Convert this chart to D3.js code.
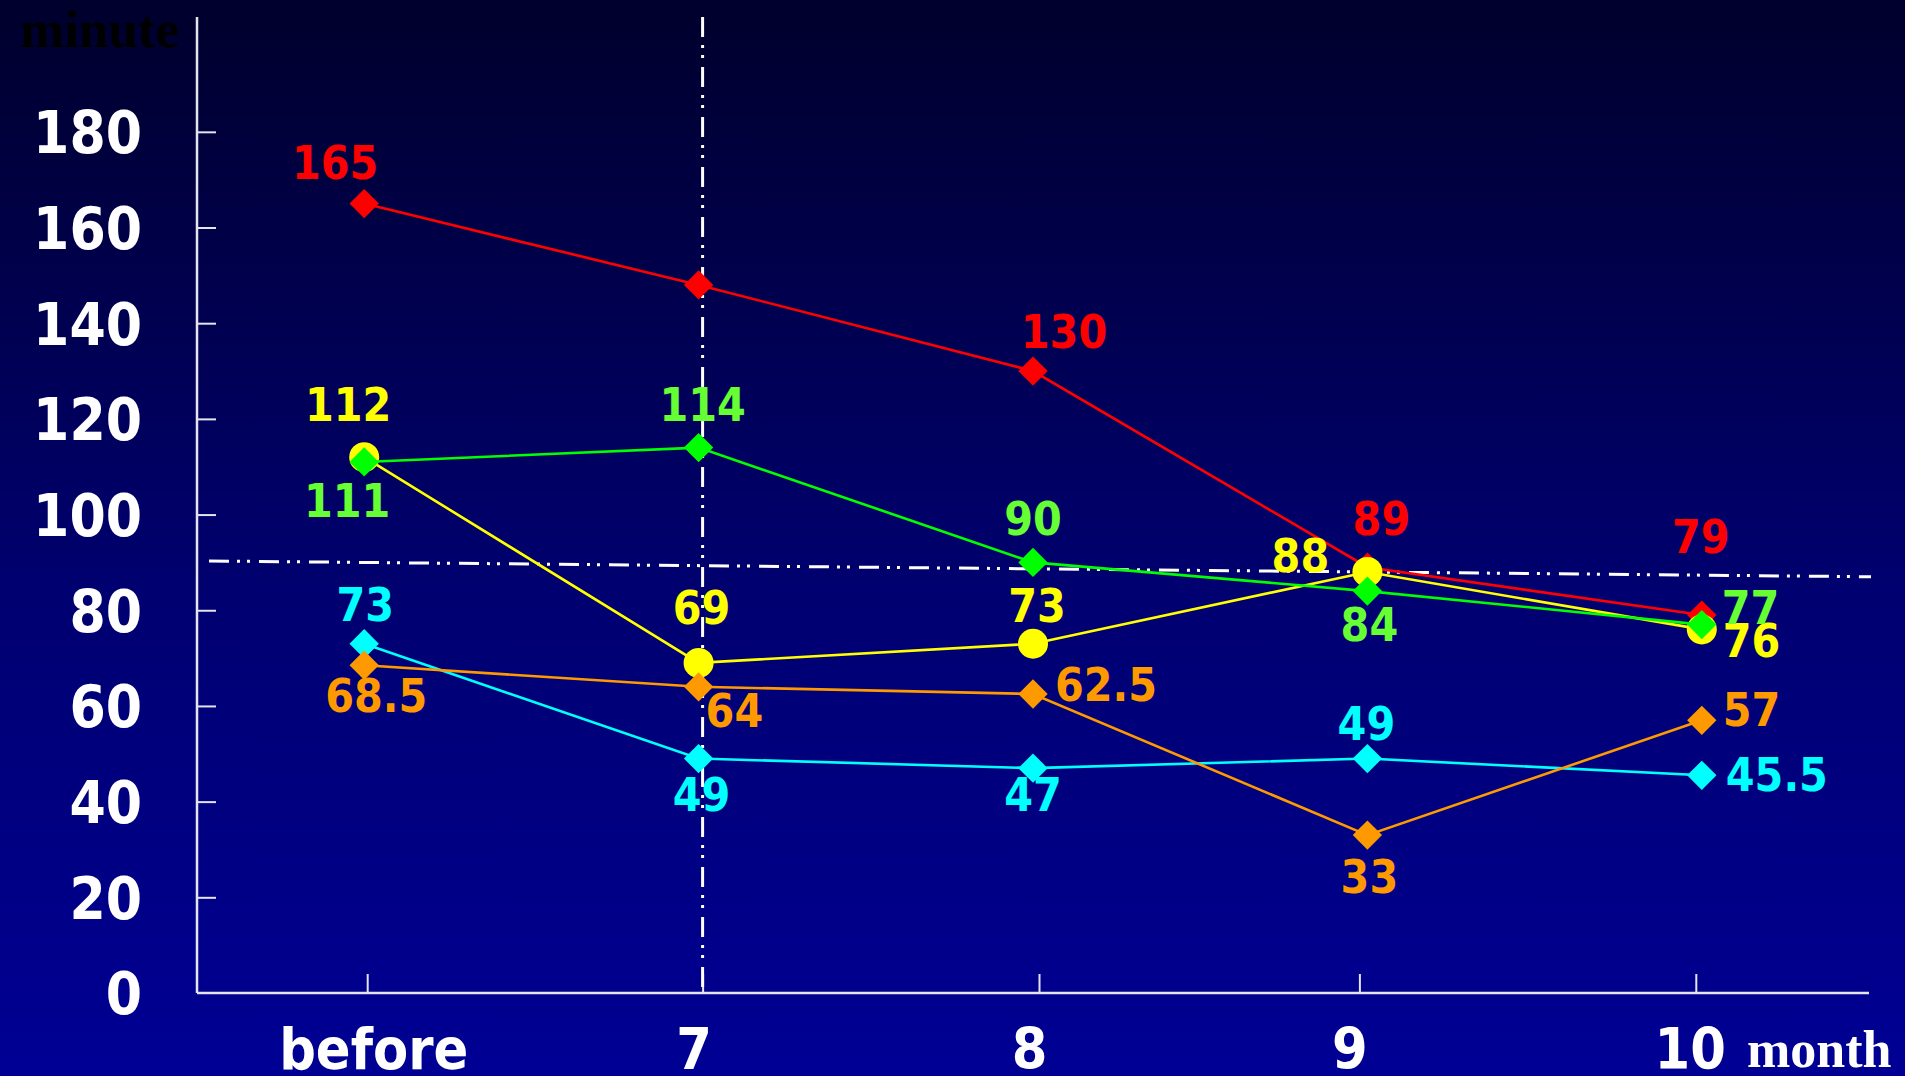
<!DOCTYPE html>
<html>
<head>
<meta charset="utf-8">
<script src="https://cdn.jsdelivr.net/npm/d3@7/dist/d3.min.js"></script>
<style>
  html, body { margin: 0; padding: 0; background: #000060; overflow: hidden; }
  svg { display: block; }
  .sans { font-family: "DejaVu Sans Condensed", "DejaVu Sans", sans-serif; font-stretch: condensed; font-weight: bold; }
  .serif { font-family: "Liberation Serif", "Times New Roman", serif; font-weight: bold; }
</style>
</head>
<body>
<svg id="chart" width="1905" height="1076"></svg>
<script>
// Months on the x axis
const categories = ["before", "7", "8", "9", "10"];
const yTicks = [0, 20, 40, 60, 80, 100, 120, 140, 160, 180];

// Minutes per group over the months
const redValues    = [165, 148, 130, 89, 79];
const yellowValues = [112, 69, 73, 88, 76];
const greenValues  = [111, 114, 90, 84, 77];
const cyanValues   = [73, 49, 47, 49, 45.5];
const orangeValues = [68.5, 64, 62.5, 33, 57];

// Which points carry a value label
const redLabelled = [true, false, true, true, true];

// Horizontal reference level (start, end) in minutes
const refLevel = [90.3, 87.0];

const W = 1905, H = 1076;
const svg = d3.select("#chart");

// Background gradient
const defs = svg.append("defs");
const grad = defs.append("linearGradient").attr("id", "bg")
  .attr("x1", 0).attr("y1", 0).attr("x2", 0).attr("y2", 1);
grad.append("stop").attr("offset", "0%").attr("stop-color", "#00002c");
grad.append("stop").attr("offset", "55%").attr("stop-color", "#000070");
grad.append("stop").attr("offset", "100%").attr("stop-color", "#000094");
svg.append("rect").attr("width", W).attr("height", H).attr("fill", "url(#bg)");

const axisLeft = 197, axisRight = 1869, axisBottom = 993, axisTop = 17;

const x = d3.scalePoint().domain(categories).range([axisLeft, axisRight]).padding(0.5);
const y = d3.scaleLinear().domain([0, 204]).range([axisBottom, axisTop]);

// Small hand-set nudges of the month ticks and their labels
const tickShift  = [3, 4, 6, -8, -6];
const labelShift = [9, -5, -4, -18, -12];

const axisColor = "#e4e4ee";

// Y axis
const yAxis = svg.append("g").attr("transform", `translate(${axisLeft},0)`)
  .call(d3.axisLeft(y).tickValues(yTicks).tickSize(0).tickPadding(55));
yAxis.select(".domain").remove();
yAxis.selectAll("text").attr("class", "sans").attr("fill", "#fff")
  .style("font-size", "58px").attr("dy", "0.36em");
yAxis.selectAll(".tick").filter(d => d !== 0).append("line")
  .attr("x1", 0).attr("x2", 19).attr("stroke", axisColor).attr("stroke-width", 2);
svg.append("line").attr("x1", axisLeft).attr("x2", axisLeft)
  .attr("y1", axisTop).attr("y2", axisBottom).attr("stroke", axisColor).attr("stroke-width", 2.5);

// X axis
const xAxis = svg.append("g").attr("transform", `translate(0,${axisBottom})`)
  .call(d3.axisBottom(x).tickSize(0).tickPadding(0));
xAxis.select(".domain").remove();
xAxis.selectAll("text").attr("class", "sans").attr("fill", "#fff")
  .style("font-size", "57px").attr("y", 76).attr("dy", 0)
  .attr("x", d => labelShift[categories.indexOf(d)]);
xAxis.selectAll(".tick").append("line")
  .attr("x1", d => tickShift[categories.indexOf(d)]).attr("x2", d => tickShift[categories.indexOf(d)])
  .attr("y1", 0).attr("y2", -19).attr("stroke", axisColor).attr("stroke-width", 2);
svg.append("line").attr("x1", axisLeft).attr("x2", axisRight)
  .attr("y1", axisBottom).attr("y2", axisBottom).attr("stroke", axisColor).attr("stroke-width", 2.5);

// Axis titles
svg.append("text").attr("class", "serif").attr("x", 20).attr("y", 47)
  .attr("fill", "#000").style("font-size", "53px").text("minute");
svg.append("text").attr("class", "serif").attr("x", 1747).attr("y", 1067)
  .attr("fill", "#fff").style("font-size", "52px").text("month");

// Dash-dot guides
const dashDot = "20 8 3 7 3 9";
svg.append("line")
  .attr("x1", x("7") + 4).attr("x2", x("7") + 4)
  .attr("y1", axisTop).attr("y2", axisBottom)
  .attr("stroke", "#fff").attr("stroke-width", 3).attr("stroke-dasharray", dashDot);
svg.append("line")
  .attr("x1", axisLeft + 12).attr("x2", axisRight + 2)
  .attr("y1", y(refLevel[0])).attr("y2", y(refLevel[1]))
  .attr("stroke", "#fff").attr("stroke-width", 3).attr("stroke-dasharray", dashDot);

// Series styling and label placement (offsets from each point, anchor)
const series = [
  { values: redValues, line: "#ff0000", mark: "#ff0000", text: "#ff0000", shape: "diamond",
    labels: [[-29, -25, "middle"], null, [31, -23, "middle"], [14, -32, "middle"], [-1, -62, "middle"]] },
  { values: yellowValues, line: "#ffff00", mark: "#ffff00", text: "#ffff00", shape: "circle",
    labels: [[-16, -36, "middle"], [3, -39, "middle"], [4, -22, "middle"], [-67, 0, "middle"], [21, 28, "start"]] },
  { values: greenValues, line: "#00ff00", mark: "#00ff00", text: "#66ff33", shape: "diamond",
    labels: [[-17, 55, "middle"], [4, -27, "middle"], [0, -27, "middle"], [2, 50, "middle"], [20, -1, "start"]] },
  { values: cyanValues, line: "#00ffff", mark: "#00ffff", text: "#00ffff", shape: "diamond",
    labels: [[1, -23, "middle"], [3, 52, "middle"], [0, 43, "middle"], [-1, -19, "middle"], [24, 16, "start"]] },
  { values: orangeValues, line: "#ff9900", mark: "#ff9900", text: "#ff9900", shape: "diamond",
    labels: [[12, 47, "middle"], [7, 40, "start"], [22, 7, "start"], [2, 58, "middle"], [21, 6, "start"]] }
];

const lineGen = d3.line().x((d, i) => x(categories[i])).y(d => y(d));
const diamond = d3.symbol(d3.symbolSquare, 430);
const circle = d3.symbol(d3.symbolCircle, 707);

series.forEach(s => {
  const g = svg.append("g");
  g.append("path").datum(s.values).attr("d", lineGen)
    .attr("fill", "none").attr("stroke", s.line).attr("stroke-width", 2.6);
  g.selectAll("path.m").data(s.values).join("path").attr("class", "m")
    .attr("d", s.shape === "circle" ? circle : diamond)
    .attr("transform", (d, i) => `translate(${x(categories[i])},${y(d)})` + (s.shape === "circle" ? "" : " rotate(45)"))
    .attr("fill", s.mark);
});

// Value labels drawn last so they sit above every line
series.forEach((s, si) => {
  svg.append("g").selectAll("text").data(s.values.map((v, i) => ({ v, i })).filter(d => s.labels[d.i] && (si !== 0 || redLabelled[d.i])))
    .join("text").attr("class", "sans")
    .attr("x", d => x(categories[d.i]) + s.labels[d.i][0])
    .attr("y", d => y(d.v) + s.labels[d.i][1])
    .attr("text-anchor", d => s.labels[d.i][2])
    .attr("fill", s.text).style("font-size", "46px")
    .text(d => d.v);
});
</script>
</body>
</html>
